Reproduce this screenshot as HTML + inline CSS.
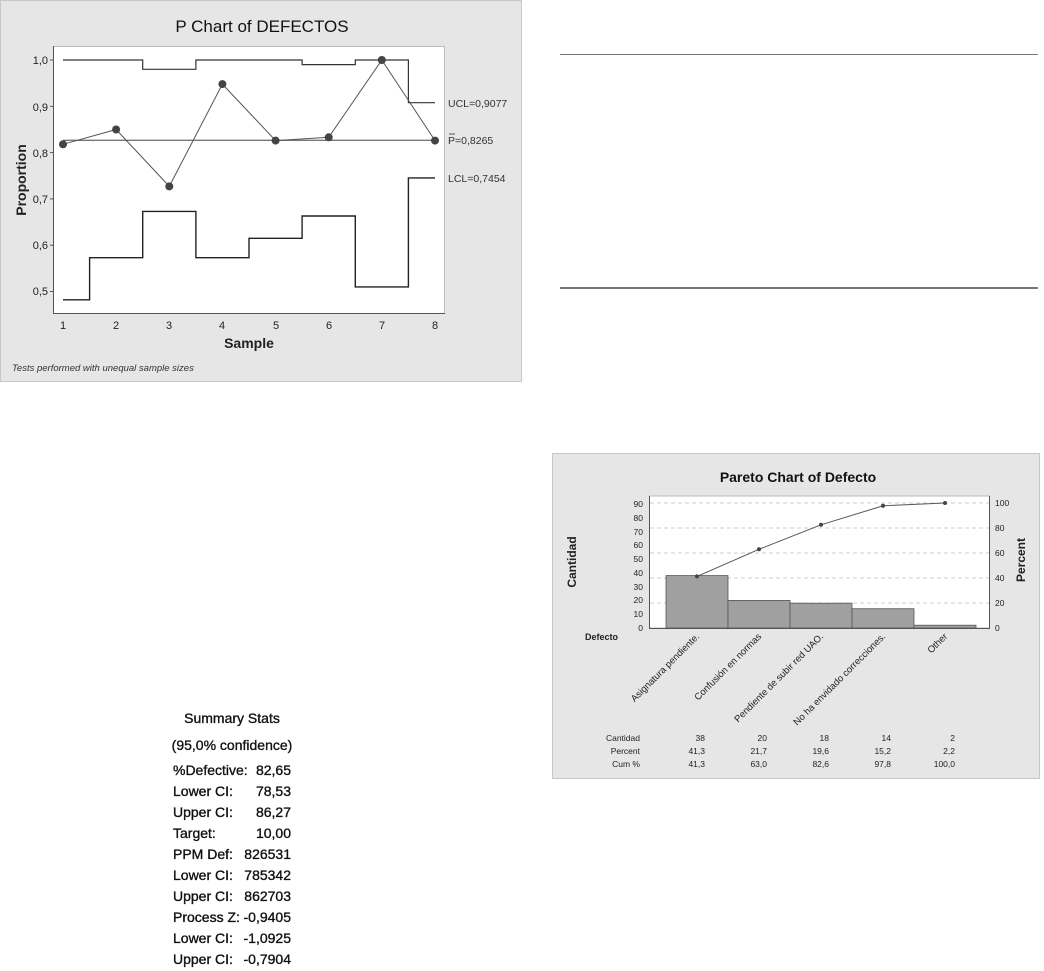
<!DOCTYPE html>
<html><head><meta charset="utf-8"><style>
body{margin:0;background:#fff}
svg{display:block;font-family:"Liberation Sans",sans-serif}
</style></head><body>
<svg width="1044" height="971" viewBox="0 0 1044 971" xmlns="http://www.w3.org/2000/svg">
<rect x="0" y="0" width="1044" height="971" fill="#fff"/>
<!-- P chart -->
<rect x="0.5" y="0.5" width="521" height="381" fill="#e6e6e6" stroke="#c8c8c8"/>
<text x="262" y="32" font-size="17" text-anchor="middle" fill="#111">P Chart of DEFECTOS</text>
<rect x="53.5" y="46.5" width="391" height="267" fill="#fff" stroke="#bbb"/>
<line x1="53.5" y1="46" x2="53.5" y2="314" stroke="#555"/>
<line x1="53" y1="313.5" x2="445" y2="313.5" stroke="#555"/>
<g font-size="11" fill="#222" text-anchor="end">
<text x="48" y="64">1,0</text><text x="48" y="111">0,9</text><text x="48" y="157">0,8</text>
<text x="48" y="203">0,7</text><text x="48" y="249">0,6</text><text x="48" y="295">0,5</text>
</g>
<g stroke="#555"><line x1="50" y1="60" x2="53" y2="60"/><line x1="50" y1="106.3" x2="53" y2="106.3"/><line x1="50" y1="152.6" x2="53" y2="152.6"/><line x1="50" y1="198.9" x2="53" y2="198.9"/><line x1="50" y1="245.2" x2="53" y2="245.2"/><line x1="50" y1="291.5" x2="53" y2="291.5"/></g>
<g font-size="11" fill="#222" text-anchor="middle">
<text x="63" y="329">1</text><text x="116" y="329">2</text><text x="169" y="329">3</text><text x="222" y="329">4</text>
<text x="276" y="329">5</text><text x="329" y="329">6</text><text x="382" y="329">7</text><text x="435" y="329">8</text>
</g>
<text x="249" y="348" font-size="14" font-weight="bold" text-anchor="middle" fill="#222">Sample</text>
<text transform="translate(26,180) rotate(-90)" font-size="14" font-weight="bold" text-anchor="middle" fill="#222">Proportion</text>
<text x="12" y="371" font-size="9.5" font-style="italic" fill="#333">Tests performed with unequal sample sizes</text>
<line x1="63" y1="140.3" x2="435" y2="140.3" stroke="#777" stroke-width="1.3"/>
<path d="M63,60 H142.7 V69.3 H195.9 V60 H302.1 V64.6 H355.3 V60 H408.4 V102.7 H435" fill="none" stroke="#333" stroke-width="1.2"/>
<path d="M63,299.8 H89.6 V257.7 H142.7 V211.4 H195.9 V257.7 H249 V238.3 H302.1 V216 H355.3 V286.9 H408.4 V177.9 H435" fill="none" stroke="#222" stroke-width="1.4"/>
<polyline points="63,144.3 116.1,129.5 169.3,186.4 222.4,84.1 275.6,140.6 328.7,137.3 381.8,60 435,140.6" fill="none" stroke="#555" stroke-width="1"/>
<g fill="#444"><circle cx="63" cy="144.3" r="4"/><circle cx="116.1" cy="129.5" r="4"/><circle cx="169.3" cy="186.4" r="4"/><circle cx="222.4" cy="84.1" r="4"/><circle cx="275.6" cy="140.6" r="4"/><circle cx="328.7" cy="137.3" r="4"/><circle cx="381.8" cy="60" r="4"/><circle cx="435" cy="140.6" r="4"/></g>
<g font-size="10.5" fill="#333">
<text x="448" y="107">UCL=0,9077</text>
<text x="448" y="144">P=0,8265</text>
<line x1="449" y1="134" x2="455" y2="134" stroke="#333" stroke-width="0.8"/>
<text x="448" y="182">LCL=0,7454</text>
</g>
<!-- right lines -->
<line x1="560" y1="54.5" x2="1038" y2="54.5" stroke="#777"/>
<line x1="560" y1="288" x2="1038" y2="288" stroke="#777" stroke-width="2"/>
<!-- Pareto -->
<rect x="552.5" y="453.5" width="487" height="325" fill="#e6e6e6" stroke="#c8c8c8"/>
<text x="798" y="482" font-size="14" font-weight="bold" text-anchor="middle" fill="#111">Pareto Chart of Defecto</text>
<rect x="649.5" y="496" width="340" height="132" fill="#fff" stroke="#bbb"/>
<g stroke="#ccc" stroke-dasharray="4,3"><line x1="650" y1="503" x2="989" y2="503"/><line x1="650" y1="528" x2="989" y2="528"/><line x1="650" y1="553" x2="989" y2="553"/><line x1="650" y1="578" x2="989" y2="578"/><line x1="650" y1="603" x2="989" y2="603"/></g>
<line x1="649.5" y1="496" x2="649.5" y2="629" stroke="#555"/>
<line x1="989.5" y1="496" x2="989.5" y2="629" stroke="#555"/>
<line x1="649" y1="628.5" x2="990" y2="628.5" stroke="#555"/>
<g font-size="8.5" fill="#222" text-anchor="end">
<text x="643" y="631">0</text><text x="643" y="617">10</text><text x="643" y="603">20</text><text x="643" y="590">30</text><text x="643" y="576">40</text><text x="643" y="562">50</text><text x="643" y="548">60</text><text x="643" y="535">70</text><text x="643" y="521">80</text><text x="643" y="507">90</text>
</g>
<g font-size="8.5" fill="#222"><text x="995" y="631">0</text><text x="995" y="606">20</text><text x="995" y="581">40</text><text x="995" y="556">60</text><text x="995" y="531">80</text><text x="995" y="506">100</text></g>
<g fill="#a0a0a0" stroke="#555" stroke-width="0.8">
<rect x="666" y="575.6" width="62" height="52.4"/><rect x="728" y="600.4" width="62" height="27.6"/><rect x="790" y="603.2" width="62" height="24.8"/><rect x="852" y="608.7" width="62" height="19.3"/><rect x="914" y="625.2" width="62" height="2.8"/>
</g>
<polyline points="697,576.4 759,549.3 821,524.8 883,505.8 945,503" fill="none" stroke="#555" stroke-width="1"/>
<g fill="#444"><circle cx="697" cy="576.4" r="2"/><circle cx="759" cy="549.3" r="2"/><circle cx="821" cy="524.8" r="2"/><circle cx="883" cy="505.8" r="2"/><circle cx="945" cy="503" r="2"/></g>
<text transform="translate(576,562) rotate(-90)" font-size="12" font-weight="bold" text-anchor="middle" fill="#222">Cantidad</text>
<text transform="translate(1025,560) rotate(-90)" font-size="12" font-weight="bold" text-anchor="middle" fill="#222">Percent</text>
<text x="585" y="640" font-size="9" font-weight="bold" fill="#222">Defecto</text>
<g font-size="9.5" fill="#222" text-anchor="end">
<text transform="translate(700,637) rotate(-45)">Asignatura pendiente.</text>
<text transform="translate(762,637) rotate(-45)">Confusión en normas</text>
<text transform="translate(824,637) rotate(-45)">Pendiente de subir red UAO.</text>
<text transform="translate(886,637) rotate(-45)">No ha envidado correcciones.</text>
<text transform="translate(948,637) rotate(-45)">Other</text>
</g>
<g font-size="8.5" fill="#222" text-anchor="end">
<text x="640" y="741">Cantidad</text><text x="640" y="754">Percent</text><text x="640" y="767">Cum %</text>
<text x="705" y="741">38</text><text x="767" y="741">20</text><text x="829" y="741">18</text><text x="891" y="741">14</text><text x="955" y="741">2</text>
<text x="705" y="754">41,3</text><text x="767" y="754">21,7</text><text x="829" y="754">19,6</text><text x="891" y="754">15,2</text><text x="955" y="754">2,2</text>
<text x="705" y="767">41,3</text><text x="767" y="767">63,0</text><text x="829" y="767">82,6</text><text x="891" y="767">97,8</text><text x="955" y="767">100,0</text>
</g>
<!-- Summary stats -->
<g font-size="14" fill="#111" stroke="#111" stroke-width="0.35">
<text x="232" y="723" text-anchor="middle">Summary Stats</text>
<text x="232" y="750" text-anchor="middle">(95,0% confidence)</text>
<g><text x="173" y="775">%Defective:</text><text x="173" y="796">Lower CI:</text><text x="173" y="817">Upper CI:</text><text x="173" y="838">Target:</text><text x="173" y="859">PPM Def:</text><text x="173" y="880">Lower CI:</text><text x="173" y="901">Upper CI:</text><text x="173" y="922">Process Z:</text><text x="173" y="943">Lower CI:</text><text x="173" y="964">Upper CI:</text></g>
<g text-anchor="end"><text x="291" y="775">82,65</text><text x="291" y="796">78,53</text><text x="291" y="817">86,27</text><text x="291" y="838">10,00</text><text x="291" y="859">826531</text><text x="291" y="880">785342</text><text x="291" y="901">862703</text><text x="291" y="922">-0,9405</text><text x="291" y="943">-1,0925</text><text x="291" y="964">-0,7904</text></g>
</g>
</svg>
</body></html>
